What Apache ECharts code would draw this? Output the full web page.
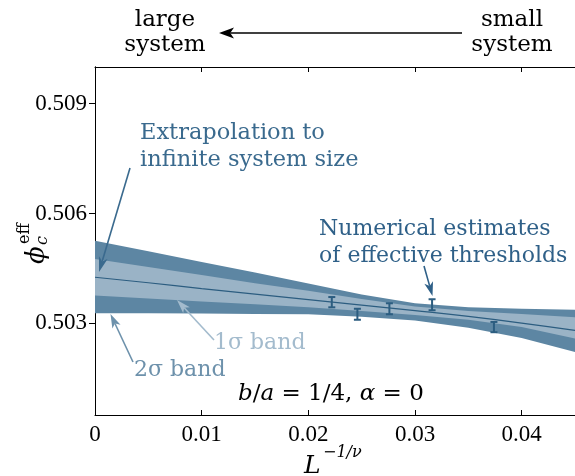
<!DOCTYPE html>
<html>
<head>
<meta charset="utf-8">
<script src="https://cdn.jsdelivr.net/npm/echarts@6.0.0/dist/echarts.min.js"></script>
<style>
  html, body { margin: 0; padding: 0; background: #fff; }
  #chart { width: 575px; height: 476px; }
</style>
</head>
<body>
<div id="chart"></div>
<script>
// sample positions along L^{-1/nu} for the fit and its bands
const xGrid = [0, 0.005, 0.01, 0.015, 0.02, 0.025, 0.03, 0.035, 0.04, 0.045];
const fitCenter = [0.50426, 0.50411, 0.50395, 0.50380, 0.50365, 0.50350, 0.50335, 0.50319, 0.50301, 0.50281];
const sigma1Upper = [0.50476, 0.50454, 0.50432, 0.50410, 0.50389, 0.50367, 0.50346, 0.50334, 0.50326, 0.50317];
const sigma1Lower = [0.50376, 0.50368, 0.50360, 0.50352, 0.50344, 0.50334, 0.50323, 0.50310, 0.50290, 0.50259];
const sigma2Upper = [0.50526, 0.50497, 0.50468, 0.50439, 0.50409, 0.50379, 0.50355, 0.50344, 0.50340, 0.50337];
const sigma2Lower = [0.50328, 0.50328, 0.50327, 0.50326, 0.50325, 0.50318, 0.50308, 0.50288, 0.50260, 0.50222];

// numerical estimates of effective thresholds
const pointX = [0.0222, 0.0246, 0.0276, 0.0316, 0.0374];
const pointY = [0.50358, 0.50325, 0.50340, 0.50351, 0.50290];
const pointErr = [0.00014, 0.00015, 0.00015, 0.00015, 0.00014];

const xTicks = [0, 0.01, 0.02, 0.03, 0.04];
const yTicks = [0.503, 0.506, 0.509];

const SERIF = '"DejaVu Serif", serif';
const TICKFONT = '"Liberation Serif", serif';
const DARK = '#5d86a3';
const LIGHT = '#9ab3c6';
const LINE = '#2c5d80';

const chart = echarts.init(document.getElementById('chart'));

function band(upper, lower, color, z) {
    return {
        type: 'custom',
        z: z,
        silent: true,
        clip: true,
        data: [[0, 0]],
        renderItem: function (params, api) {
            const pts = [];
            xGrid.forEach((x, i) => pts.push(api.coord([x, upper[i]])));
            for (let i = xGrid.length - 1; i >= 0; i--) {
                pts.push(api.coord([xGrid[i], lower[i]]));
            }
            return { type: 'polygon', shape: { points: pts }, style: { fill: color } };
        }
    };
}

function arrow(x1, y1, x2, y2, color, w, headLen, headW) {
    const dx = x2 - x1, dy = y2 - y1, len = Math.hypot(dx, dy);
    const ux = dx / len, uy = dy / len, px = -uy, py = ux;
    const bx = x2 - ux * headLen, by = y2 - uy * headLen;
    const nx = x2 - ux * headLen * 0.75, ny = y2 - uy * headLen * 0.75;
    return [
        { type: 'line', z: 100, shape: { x1: x1, y1: y1, x2: nx, y2: ny }, style: { stroke: color, lineWidth: w } },
        { type: 'polygon', z: 100, shape: { points: [[x2, y2], [bx + px * headW, by + py * headW], [nx, ny], [bx - px * headW, by - py * headW]] }, style: { fill: color } }
    ];
}

function label(text, x, y, color, size, align, style) {
    return {
        type: 'text', z: 100, x: x, y: y,
        style: {
            text: text, fill: color,
            font: (style || '') + ' ' + size + 'px ' + SERIF,
            textAlign: align || 'left', textVerticalAlign: 'middle'
        }
    };
}

const graphics = [
    label('large', 165, 20, '#000', 23, 'center'),
    label('system', 165, 45, '#000', 23, 'center'),
    label('small', 512, 20, '#000', 23, 'center'),
    label('system', 512, 45, '#000', 23, 'center'),
    ...arrow(462, 33, 219, 33, '#000', 1.5, 15, 5.5),

    label('Extrapolation to', 140, 133, '#3a6a8e', 22.5),
    label('infinite system size', 140, 160, '#3a6a8e', 22.5),
    ...arrow(130, 168, 99, 272, '#3a6a8e', 1.6, 15, 4.5),

    label('Numerical estimates', 319, 229, '#2f6088', 22),
    label('of effective thresholds', 319, 256, '#2f6088', 22),
    ...arrow(424, 266, 432.5, 296, '#2f6088', 1.6, 14, 4.5),

    label('1σ band', 214, 343, '#a3bbcd', 22),
    ...arrow(214, 340, 177, 300, '#a3bbcd', 1.6, 14, 4.5),

    label('2σ band', 134, 370, '#6d91ab', 22),
    ...arrow(133, 362, 110.5, 314, '#6d91ab', 1.6, 14, 4.5),

    {
        type: 'text', z: 100, x: 238, y: 394,
        style: {
            text: '{i|b}{r|/}{i|a}{r| = 1/4, }{i|α}{r| = 0}',
            textVerticalAlign: 'middle',
            rich: {
                i: { font: 'italic 23px ' + SERIF, fill: '#000' },
                r: { font: '23px ' + SERIF, fill: '#000' }
            }
        }
    },

    // x axis name
    label('L', 304, 466, '#000', 25, 'left', 'italic'),
    label('−1/ν', 323, 453, '#000', 16, 'left', 'italic'),

    // y axis name, rotated
    {
        type: 'group', x: 37, y: 264, rotation: Math.PI / 2, z: 100,
        children: [
            { type: 'text', x: 0, y: 0, style: { text: 'ϕ', font: 'italic 26px ' + SERIF, fill: '#000', textVerticalAlign: 'middle' } },
            { type: 'text', x: 20, y: -12, style: { text: 'eff', font: '16px ' + SERIF, fill: '#000', textVerticalAlign: 'middle' } },
            { type: 'text', x: 19, y: 6, style: { text: 'c', font: 'italic 16px ' + SERIF, fill: '#000', textVerticalAlign: 'middle' } }
        ]
    }
];

const axisLine = { show: true, lineStyle: { color: '#000', width: 1 } };

const option = {
    backgroundColor: '#fff',
    animation: false,
    grid: { left: 95, top: 67, width: 481.5, height: 348 },
    xAxis: [{
        type: 'value', min: 0, max: 0.045, position: 'bottom',
        axisLine: axisLine,
        axisTick: { inside: true, length: 5, customValues: xTicks, lineStyle: { color: '#000' } },
        axisLabel: {
            customValues: xTicks, margin: 8, color: '#000', fontFamily: TICKFONT, fontSize: 23,
            formatter: v => (v === 0 ? '0' : String(v))
        },
        splitLine: { show: false }
    }, {
        type: 'value', min: 0, max: 0.045, position: 'top',
        axisLine: axisLine,
        axisTick: { inside: true, length: 5, customValues: xTicks, lineStyle: { color: '#000' } },
        axisLabel: { show: false },
        splitLine: { show: false }
    }],
    yAxis: [{
        type: 'value', min: 0.5005, max: 0.510, position: 'left',
        axisLine: axisLine,
        axisTick: { inside: false, length: 6, customValues: yTicks, lineStyle: { color: '#000' } },
        axisLabel: {
            customValues: yTicks, margin: 8, color: '#000', fontFamily: TICKFONT, fontSize: 23,
            formatter: v => v.toFixed(3)
        },
        splitLine: { show: false }
    }, {
        type: 'value', min: 0.5005, max: 0.510, position: 'right',
        axisLine: axisLine,
        axisTick: { inside: true, length: 5, customValues: yTicks, lineStyle: { color: '#000' } },
        axisLabel: { show: false },
        splitLine: { show: false }
    }],
    series: [
        band(sigma2Upper, sigma2Lower, DARK, 1),
        band(sigma1Upper, sigma1Lower, LIGHT, 2),
        {
            type: 'line', z: 3,
            data: xGrid.map((x, i) => [x, fitCenter[i]]),
            smooth: true, showSymbol: false, silent: true,
            lineStyle: { color: LINE, width: 1.2 }
        },
        {
            type: 'custom', z: 4,
            data: pointX.map((x, i) => [x, pointY[i], pointErr[i]]),
            encode: { x: 0, y: 1 },
            renderItem: function (params, api) {
                const x = api.value(0), y = api.value(1), e = api.value(2);
                const top = api.coord([x, y + e]), bot = api.coord([x, y - e]);
                const cap = 3.5, st = { stroke: LINE, lineWidth: 2 };
                return {
                    type: 'group',
                    children: [
                        { type: 'line', shape: { x1: top[0], y1: top[1], x2: bot[0], y2: bot[1] }, style: st },
                        { type: 'line', shape: { x1: top[0] - cap, y1: top[1], x2: top[0] + cap, y2: top[1] }, style: st },
                        { type: 'line', shape: { x1: bot[0] - cap, y1: bot[1], x2: bot[0] + cap, y2: bot[1] }, style: st }
                    ]
                };
            }
        }
    ],
    graphic: graphics
};

chart.setOption(option);

window.addEventListener('resize', () => {
    chart.resize();
});
</script>
</body>
</html>
